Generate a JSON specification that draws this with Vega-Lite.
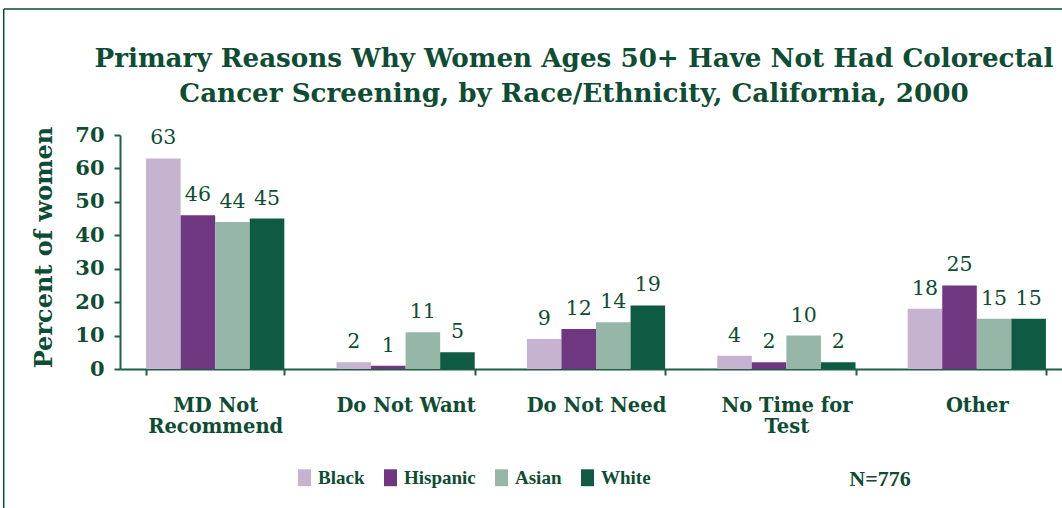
{
  "$schema": "https://vega.github.io/schema/vega-lite/v6.json",
  "width": 952,
  "height": 234,
  "autosize": "none",
  "padding": {"left": 120, "top": 135, "right": 0, "bottom": 139},
  "background": "white",
  "title": {
    "text": ["Primary Reasons Why Women Ages 50+ Have Not Had Colorectal", "Cancer Screening, by Race/Ethnicity, California, 2000"],
    "font": "DejaVu Serif",
    "fontSize": 26.2,
    "fontWeight": "bold",
    "color": "#0e4d33",
    "anchor": "middle",
    "frame": "group",
    "dx": -22,
    "offset": -99,
    "lineHeight": 35
  },
  "data": {
    "values": [
      {"reason": "MD Not Recommend", "group": "Black", "pct": 63},
      {"reason": "MD Not Recommend", "group": "Hispanic", "pct": 46},
      {"reason": "MD Not Recommend", "group": "Asian", "pct": 44},
      {"reason": "MD Not Recommend", "group": "White", "pct": 45},
      {"reason": "Do Not Want", "group": "Black", "pct": 2},
      {"reason": "Do Not Want", "group": "Hispanic", "pct": 1},
      {"reason": "Do Not Want", "group": "Asian", "pct": 11},
      {"reason": "Do Not Want", "group": "White", "pct": 5},
      {"reason": "Do Not Need", "group": "Black", "pct": 9},
      {"reason": "Do Not Need", "group": "Hispanic", "pct": 12},
      {"reason": "Do Not Need", "group": "Asian", "pct": 14},
      {"reason": "Do Not Need", "group": "White", "pct": 19},
      {"reason": "No Time for Test", "group": "Black", "pct": 4},
      {"reason": "No Time for Test", "group": "Hispanic", "pct": 2},
      {"reason": "No Time for Test", "group": "Asian", "pct": 10},
      {"reason": "No Time for Test", "group": "White", "pct": 2},
      {"reason": "Other", "group": "Black", "pct": 18},
      {"reason": "Other", "group": "Hispanic", "pct": 25},
      {"reason": "Other", "group": "Asian", "pct": 15},
      {"reason": "Other", "group": "White", "pct": 15}
    ]
  },
  "encoding": {
    "x": {
      "field": "reason",
      "type": "nominal",
      "sort": ["MD Not Recommend", "Do Not Want", "Do Not Need", "No Time for Test", "Other"],
      "scale": {"paddingInner": 0.274, "paddingOuter": 0.137},
      "axis": {
        "title": null,
        "labelAngle": 0,
        "tickBand": "extent",
        "labelExpr": "datum.value == 'MD Not Recommend' ? ['MD Not', 'Recommend'] : datum.value == 'No Time for Test' ? ['No Time for', 'Test'] : datum.value",
        "labelFont": "DejaVu Serif",
        "labelFontSize": 19.5,
        "labelFontWeight": "bold",
        "labelColor": "#0e4d33",
        "labelPadding": 36,
        "labelLineHeight": 21,
        "labelBaseline": "alphabetic",
        "domainColor": "#1d5e45",
        "domainWidth": 2,
        "tickColor": "#1d5e45",
        "tickWidth": 2,
        "tickSize": 6
      }
    },
    "xOffset": {
      "field": "group",
      "type": "nominal",
      "sort": ["Black", "Hispanic", "Asian", "White"],
      "scale": {"paddingInner": 0, "paddingOuter": 0}
    },
    "y": {
      "field": "pct",
      "type": "quantitative",
      "scale": {"domain": [0, 70], "nice": false},
      "axis": {
        "title": "Percent of women",
        "titleFont": "DejaVu Serif",
        "titleFontSize": 24,
        "titleFontWeight": "bold",
        "titleColor": "#0e4d33",
        "titlePadding": 18,
        "titleY": 112,
        "values": [0, 10, 20, 30, 40, 50, 60, 70],
        "grid": false,
        "labelFont": "DejaVu Serif",
        "labelFontSize": 21,
        "labelFontWeight": "bold",
        "labelColor": "#0e4d33",
        "labelPadding": 10,
        "domainColor": "#1d5e45",
        "domainWidth": 2,
        "tickColor": "#1d5e45",
        "tickWidth": 2,
        "tickSize": 6
      }
    }
  },
  "layer": [
    {
      "mark": {"type": "bar"},
      "encoding": {
        "color": {
          "field": "group",
          "type": "nominal",
          "sort": ["Black", "Hispanic", "Asian", "White"],
          "scale": {"domain": ["Black", "Hispanic", "Asian", "White"], "range": ["#c5b3cf", "#6f377f", "#96b6a8", "#0f5a43"]},
          "legend": {
            "title": null,
            "orient": "none",
            "direction": "horizontal",
            "legendX": 175,
            "legendY": 333,
            "symbolType": "M-1,-1.3H1V1.3H-1Z",
            "symbolSize": 169,
            "symbolStrokeWidth": 0,
            "labelFont": "Liberation Serif",
            "labelFontSize": 19,
            "labelFontWeight": "bold",
            "labelColor": "#0e4d33",
            "labelOffset": 4,
            "columnPadding": 16
          }
        }
      }
    },
    {
      "mark": {"type": "text", "font": "DejaVu Serif", "fontSize": 20.5, "color": "#0e4d33", "baseline": "alphabetic", "dy": -14},
      "encoding": {"text": {"field": "pct", "type": "quantitative"}}
    },
    {
      "data": {"values": [{"label": "N=776", "reason": "Other", "pos": -32.9}]},
      "mark": {"type": "text", "font": "Liberation Serif", "fontSize": 22, "fontWeight": "bold", "color": "#0e4d33", "baseline": "middle", "align": "center", "clip": false},
      "encoding": {
        "x": {"field": "reason", "type": "nominal", "bandPosition": -0.2},
        "xOffset": null,
        "y": {"field": "pos", "type": "quantitative"},
        "text": {"field": "label"}
      }
    },
    {
      "data": {"values": [{"reason": "MD Not Recommend", "top": 107.7, "bottom": -45}]},
      "mark": {"type": "rule", "color": "#0b4a30", "strokeWidth": 1.5, "clip": false},
      "encoding": {
        "x": {"field": "reason", "type": "nominal", "bandPosition": -1.03},
        "xOffset": null,
        "y": {"field": "top", "type": "quantitative"},
        "y2": {"field": "bottom"}
      }
    },
    {
      "data": {"values": [{"reason": "MD Not Recommend", "top": 107.7, "bottom": -45}]},
      "mark": {"type": "rule", "color": "#0b4a30", "strokeWidth": 1.5, "clip": false},
      "encoding": {
        "x": {"field": "reason", "type": "nominal", "bandPosition": -1.03},
        "x2": {"value": 1100},
        "xOffset": null,
        "y": {"field": "top", "type": "quantitative"}
      }
    }
  ],
  "config": {"view": {"stroke": null}}
}
